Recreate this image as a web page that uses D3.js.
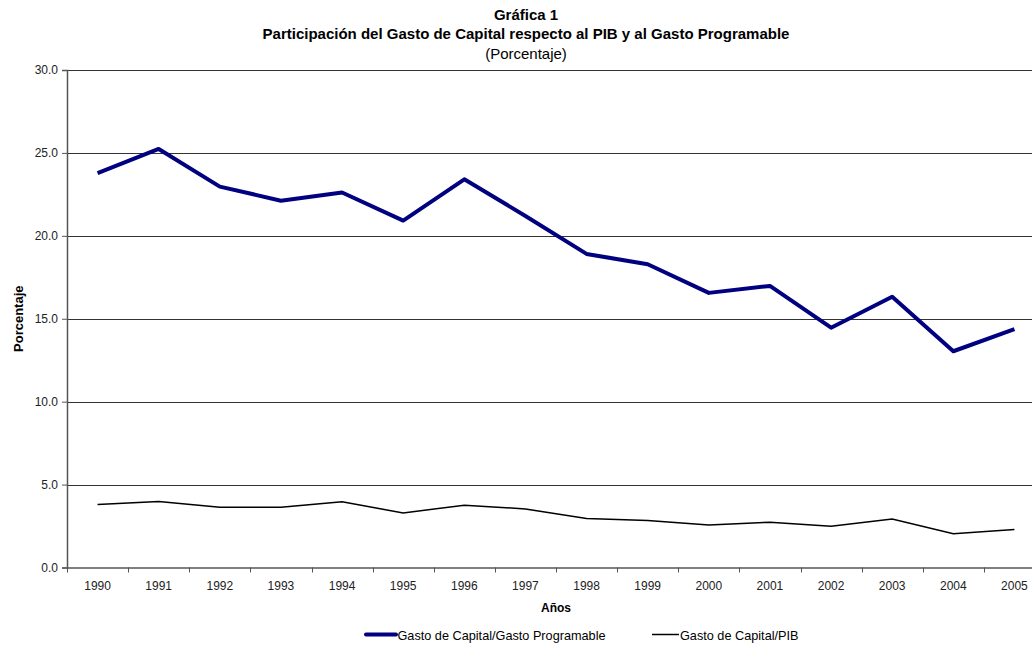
<!DOCTYPE html>
<html><head><meta charset="utf-8">
<script src="https://cdn.jsdelivr.net/npm/d3@7"></script>
<style>body{margin:0;background:#fff}svg{display:block}text{font-family:"Liberation Sans",Arial,sans-serif}</style>
</head><body><svg id="c" width="1032" height="645"></svg>
<script>
const years = ["1990","1991","1992","1993","1994","1995","1996","1997","1998","1999","2000","2001","2002","2003","2004","2005"];
const gastoProgramable = [23.78,25.24,22.97,22.12,22.61,20.92,23.41,21.2,18.91,18.29,16.56,16.98,14.46,16.33,13.04,14.38];
const gastoPIB = [3.80,3.98,3.63,3.63,3.96,3.29,3.76,3.53,2.95,2.83,2.57,2.73,2.49,2.93,2.03,2.29];
const yTicks = [0,5,10,15,20,25,30];
const seriesNames = ["Gasto de Capital/Gasto Programable","Gasto de Capital/PIB"];

const svg = d3.select("#c");
const L = 67, R = 1045, T = 70, B = 567.5;
const x = d3.scaleBand().domain(years).range([L, R]);
const y = d3.scaleLinear().domain([0,30]).range([B, T]);

// gridlines
svg.append("g").selectAll("line").data(yTicks.filter(d=>d>0)).join("line")
  .attr("x1", L).attr("x2", 1032).attr("y1", d=>Math.round(y(d))+0.5).attr("y2", d=>Math.round(y(d))+0.5)
  .attr("stroke", "#333").attr("stroke-width", 1);

// y axis
const ya = svg.append("g").attr("transform", `translate(${L},0)`)
  .call(d3.axisLeft(y).tickValues(yTicks).tickFormat(d3.format(".1f")).tickSize(5).tickPadding(4));
ya.select(".domain").attr("stroke", "#555").attr("stroke-width", 1.5);
ya.selectAll(".tick line").attr("stroke", "#555");
ya.selectAll("text").attr("font-size", 12).attr("fill", "#222").style("font-family", "Liberation Sans, Arial, sans-serif");

// x axis
const xa = svg.append("g").attr("transform", `translate(0,${B})`)
  .call(d3.axisBottom(x).tickSize(0).tickPadding(13.5));
xa.select(".domain").attr("stroke", "#555").attr("stroke-width", 1.5);
xa.selectAll("text").attr("font-size", 12).attr("fill", "#222").style("font-family", "Liberation Sans, Arial, sans-serif");
svg.append("g").selectAll("line").data(years).join("line")
  .attr("x1", d=>Math.round(x(d))+0.5).attr("x2", d=>Math.round(x(d))+0.5)
  .attr("y1", B).attr("y2", B+5).attr("stroke", "#555");

// lines
const line = d3.line().x((d,i)=>x(years[i])+x.bandwidth()/2).y(d=>y(d));
svg.append("path").datum(gastoPIB).attr("d", line).attr("fill","none").attr("stroke","#000").attr("stroke-width",1.5);
svg.append("path").datum(gastoProgramable).attr("d", line).attr("fill","none").attr("stroke","#000080").attr("stroke-width",4).attr("stroke-linejoin","round");

// titles
const cx = 526;
svg.append("text").attr("x", cx).attr("y", 20).attr("text-anchor","middle").attr("font-size",15).attr("font-weight","bold").text("Gráfica 1");
svg.append("text").attr("x", cx).attr("y", 39).attr("text-anchor","middle").attr("font-size",15).attr("font-weight","bold").text("Participación del Gasto de Capital respecto al PIB y al Gasto Programable");
svg.append("text").attr("x", cx).attr("y", 58.5).attr("text-anchor","middle").attr("font-size",15).text("(Porcentaje)");

// axis titles
svg.append("text").attr("x", (L+R)/2).attr("y", 611.5).attr("text-anchor","middle").attr("font-size",12).attr("font-weight","bold").text("Años");
svg.append("text").attr("transform", `translate(23,${(T+B)/2}) rotate(-90)`).attr("text-anchor","middle").attr("font-size",13).attr("font-weight","bold").text("Porcentaje");

// legend
const lg = svg.append("g");
lg.append("line").attr("x1",366).attr("x2",396).attr("y1",634.5).attr("y2",634.5).attr("stroke","#000080").attr("stroke-width",4).attr("stroke-linecap","round");
lg.append("text").attr("x",397.5).attr("y",640).attr("font-size",12.7).text(seriesNames[0]);
lg.append("line").attr("x1",652).attr("x2",679).attr("y1",634.5).attr("y2",634.5).attr("stroke","#000").attr("stroke-width",1.5);
lg.append("text").attr("x",680).attr("y",640).attr("font-size",12.7).text(seriesNames[1]);
</script></body></html>
